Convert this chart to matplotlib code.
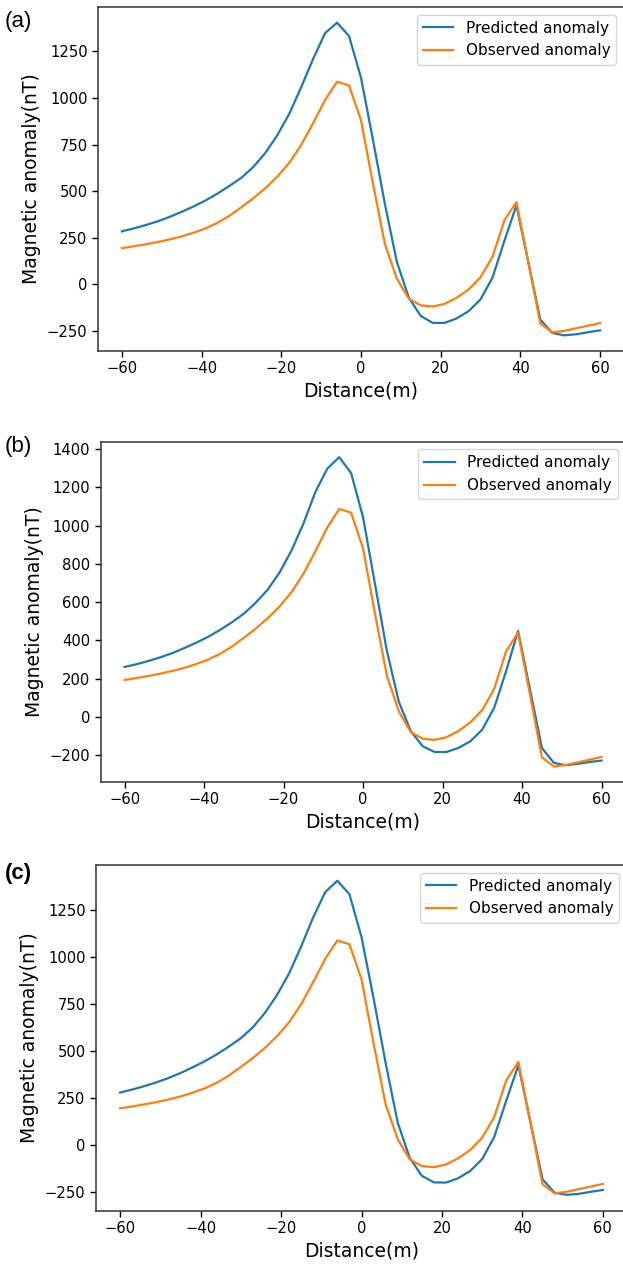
import matplotlib
matplotlib.use("Agg")
import matplotlib.pyplot as plt

distance = [-60, -57, -54, -51, -48, -45, -42, -39, -36, -33, -30, -27, -24, -21,
            -18, -15, -12, -9, -6, -3, 0, 3, 6, 9, 12, 15, 18, 21, 24, 27, 30,
            33, 36, 39, 42, 45, 48, 51, 54, 57, 60]

observed = [194, 204, 215, 227, 241, 257, 277, 300, 330, 368, 414, 462, 516, 578,
            652, 748, 866, 990, 1087, 1067, 880, 540, 215, 30, -78, -113, -119,
            -105, -72, -28, 38, 148, 344, 441, 117, -210, -258, -250, -236, -222, -208]

predicted_a = [284, 300, 318, 338, 362, 389, 418, 450, 487, 528, 572, 630, 705, 800,
               915, 1058, 1210, 1348, 1404, 1332, 1108, 775, 430, 120, -72, -170,
               -207, -207, -183, -144, -81, 36, 234, 423, 117, -189, -261, -274,
               -268, -257, -247]

predicted_b = [262, 276, 293, 312, 334, 360, 388, 419, 455, 495, 540, 597, 665, 755,
               870, 1010, 1175, 1297, 1357, 1274, 1043, 695, 345, 80, -73, -152,
               -182, -182, -161, -126, -65, 49, 241, 450, 145, -161, -239, -251,
               -244, -234, -227]

predicted_c = [278, 294, 312, 332, 355, 382, 412, 444, 481, 522, 567, 625, 702, 797,
               912, 1055, 1210, 1345, 1405, 1333, 1105, 780, 435, 118, -70, -165,
               -200, -201, -178, -140, -76, 42, 236, 424, 120, -183, -255, -266,
               -261, -250, -240]

panel_labels = ["(a)", "(b)", "(c)"]
predicted_sets = [predicted_a, predicted_b, predicted_c]

W, H = 623, 1269
fig = plt.figure(figsize=(W / 100, H / 100), dpi=100)

# axes boxes in pixels: left, top, right, bottom
boxes = [(98, 7, 624, 351), (100.7, 441.7, 625.4, 782), (96, 865, 627, 1210.5)]
letter_pos = [(5, 22), (5, 447), (5, 874)]
letter_weight = ["normal", "normal", "bold"]

for i, (box, pred) in enumerate(zip(boxes, predicted_sets)):
    l, t, r, b = box
    ax = fig.add_axes([l / W, 1 - b / H, (r - l) / W, (b - t) / H])
    ax.plot(distance, pred, color="#1f77b4", lw=1.6, label="Predicted anomaly")
    ax.plot(distance, observed, color="#ff7f0e", lw=1.6, label="Observed anomaly")
    ax.set_xlabel("Distance(m)", fontsize=13.5)
    ax.set_ylabel("Magnetic anomaly(nT)", fontsize=13.5)
    ax.tick_params(labelsize=10.6, width=1.0, length=4)
    ax.set_xticks([-60, -40, -20, 0, 20, 40, 60])
    for s in ax.spines.values():
        s.set_linewidth(1.1)
        s.set_color("#333333")
    ax.legend(loc="upper right", fontsize=11)
    lx, ly = letter_pos[i]
    fig.text(lx / W, 1 - ly / H, panel_labels[i], fontsize=16,
             family="Liberation Sans", va="center", ha="left",
             fontweight=letter_weight[i])

fig.savefig("out.png", dpi=100)
